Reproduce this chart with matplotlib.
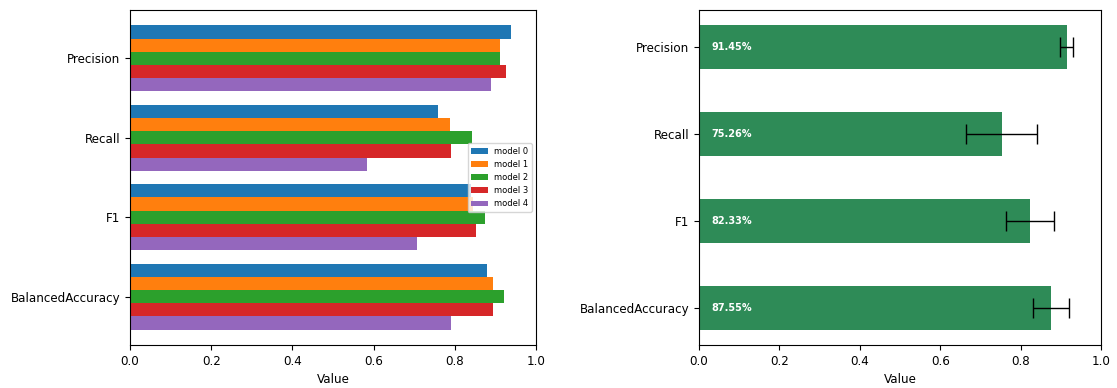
import numpy as np
import matplotlib
matplotlib.use("Agg")
import matplotlib.pyplot as plt

metrics = ["Precision", "Recall", "F1", "BalancedAccuracy"]
models = ["model 0", "model 1", "model 2", "model 3", "model 4"]

# per-model scores, rows follow `metrics`, columns follow `models`
precision = [0.9375, 0.911, 0.910, 0.925, 0.889]
recall = [0.759, 0.788, 0.842, 0.791, 0.583]
f1 = [0.839, 0.845, 0.874, 0.852, 0.7065]
balanced_accuracy = [0.879, 0.894, 0.921, 0.894, 0.7895]

scores = np.array([precision, recall, f1, balanced_accuracy])
means = scores.mean(axis=1)
stds = scores.std(axis=1)

plt.rcParams["font.size"] = 8.6

fig = plt.figure(figsize=(11.17, 3.88), dpi=100)
ax1 = fig.add_axes([0.1164, 0.111, 0.3635, 0.863])
ax2 = fig.add_axes([0.6258, 0.111, 0.3599, 0.863])

colors = plt.rcParams["axes.prop_cycle"].by_key()["color"]
n = len(models)
bar_h = 0.8333 / n
pos = np.arange(len(metrics))
for i, name in enumerate(models):
    offs = -0.8333 / 2 + bar_h * (i + 0.5)
    ax1.barh(pos + offs, scores[:, i], height=bar_h, color=colors[i], label=name)
ax1.set_yticks(pos)
ax1.set_yticklabels(metrics)
ax1.invert_yaxis()
ax1.set_xlim(0, 1)
ax1.set_xlabel("Value")
ax1.legend(loc="center right", fontsize=6)

ax2.barh(pos, means, height=0.5, color="seagreen", xerr=stds,
         error_kw=dict(ecolor="black", capsize=7, elinewidth=1, capthick=1))
for y, m in zip(pos, means):
    ax2.text(0.03, y, f"{m * 100:.2f}%", color="white", fontweight="bold",
             fontsize=7, ha="left", va="center")
ax2.set_yticks(pos)
ax2.set_yticklabels(metrics)
ax2.invert_yaxis()
ax2.set_xlim(0, 1)
ax2.set_xlabel("Value")

fig.savefig("out.png", dpi=100)
